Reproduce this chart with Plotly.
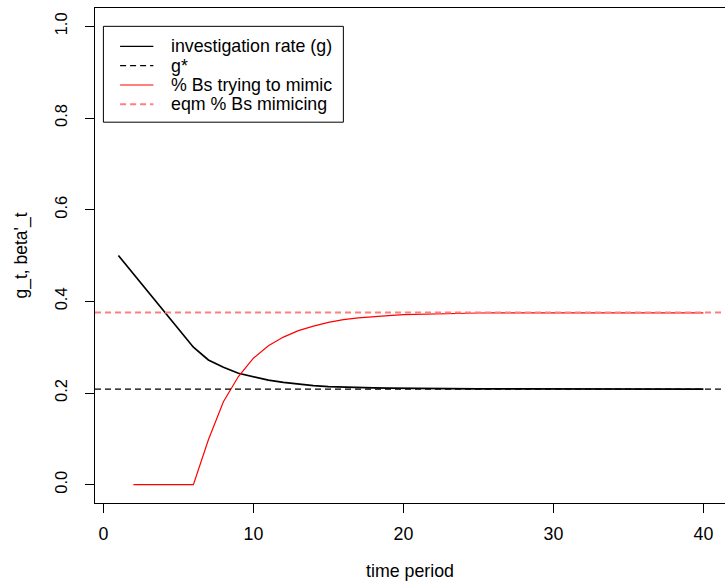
import plotly.graph_objects as go

# ---- data ----
t_g = list(range(1, 41))
g_rate = [0.500, 0.460, 0.420, 0.380, 0.340, 0.300, 0.272, 0.256, 0.243, 0.235,
          0.228, 0.223, 0.219, 0.216, 0.214, 0.2125, 0.2115, 0.211, 0.2105, 0.210,
          0.2097, 0.2095, 0.2093, 0.2092, 0.2091, 0.2090, 0.2089, 0.2088, 0.2088, 0.2087,
          0.2087, 0.2087, 0.2087, 0.2086, 0.2086, 0.2086, 0.2086, 0.2086, 0.2086, 0.2086]
t_b = list(range(2, 41))
beta = [0.0, 0.0, 0.0, 0.0, 0.0, 0.098, 0.181, 0.236, 0.276, 0.303,
        0.322, 0.336, 0.346, 0.354, 0.360, 0.364, 0.367, 0.369, 0.371, 0.372,
        0.373, 0.3737, 0.3742, 0.3745, 0.3748, 0.3749, 0.375, 0.375, 0.375, 0.375,
        0.375, 0.375, 0.375, 0.375, 0.375, 0.375, 0.375, 0.375, 0.375]
G_STAR = 0.2086
BETA_EQ = 0.3756

legend_labels = ["investigation rate (g)", "g*", "% Bs trying to mimic", "eqm % Bs mimicing"]
x_ticks = [0, 10, 20, 30, 40]
y_ticks = [0.0, 0.2, 0.4, 0.6, 0.8, 1.0]

FONT = "Liberation Sans, Arial, Helvetica, sans-serif"
FS_H = 17.8   # horizontal text
FS_V = 16.5   # rotated tick text
BLACK = "#000000"
RED = "#FF0000"
SALMON = "#FF7F7F"

fig = go.Figure()
fig.add_trace(go.Scatter(x=t_g, y=g_rate, mode="lines",
                         line=dict(color=BLACK, width=1.7), showlegend=False))
fig.add_trace(go.Scatter(x=t_b, y=beta, mode="lines",
                         line=dict(color=RED, width=1.2), showlegend=False))
fig.add_hline(y=G_STAR, line=dict(color=BLACK, width=1.3, dash="6px,4px"))
fig.add_hline(y=BETA_EQ, line=dict(color=SALMON, width=2, dash="6px,4px"))

# ---- manual legend (R style box) ----
L, T, B, R_ = 94.9, 7.65, 77.7, 0
W, H = 725, 581
xr = [-0.56, 41.44]
yr = [-0.04, 1.04]
pw = W - L - R_
ph = H - T - B


def px_x(p):
    return xr[0] + (p - L) / pw * (xr[1] - xr[0])


def px_y(p):
    return yr[1] - (p - T) / ph * (yr[1] - yr[0])


fig.add_shape(type="rect", xref="x", yref="y",
              x0=px_x(103.3), x1=px_x(343.3), y0=px_y(26), y1=px_y(122),
              line=dict(color=BLACK, width=1), fillcolor="white", layer="above")
styles = [(BLACK, 1.3, "solid"), (BLACK, 1.3, "6px,4px"),
          (SALMON, 2, "solid"), (SALMON, 2, "6px,4px")]
rows = [46, 65.3, 84.7, 104]
for lab, (c, w, d), ry in zip(legend_labels, styles, rows):
    fig.add_shape(type="line", xref="x", yref="y",
                  x0=px_x(120), x1=px_x(153.3), y0=px_y(ry), y1=px_y(ry),
                  line=dict(color=c, width=w, dash=d), layer="above")
    fig.add_annotation(x=px_x(168.5), y=px_y(ry), xref="x", yref="y", text=lab,
                       showarrow=False, xanchor="left", yanchor="middle",
                       font=dict(family=FONT, size=FS_H, color="black"))

fig.update_layout(
    width=W, height=H,
    margin=dict(l=L, r=R_, t=T, b=B, pad=0),
    paper_bgcolor="white", plot_bgcolor="white",
    font=dict(family=FONT, size=FS_H, color="black"),
    showlegend=False,
)
fig.update_xaxes(range=xr, tickvals=x_ticks, ticks="outside", ticklen=9,
                 tickcolor=BLACK, tickwidth=1, showline=True, linecolor=BLACK,
                 linewidth=1, mirror=True, showgrid=False, zeroline=False,
                 tickfont=dict(size=FS_H),
                 title=dict(text="time period", standoff=24,
                            font=dict(size=FS_H)),
                 ticklabelstandoff=6)
fig.update_yaxes(range=yr, tickvals=y_ticks, tickformat=".1f", tickangle=-90,
                 ticks="outside", ticklen=9, tickcolor=BLACK, tickwidth=1,
                 showline=True, linecolor=BLACK, linewidth=1, showgrid=False,
                 zeroline=False, tickfont=dict(size=FS_V),
                 title=dict(text="g_t, beta'_t", standoff=20,
                            font=dict(size=17.5)),
                 ticklabelstandoff=11)

fig.write_html("out.html")
